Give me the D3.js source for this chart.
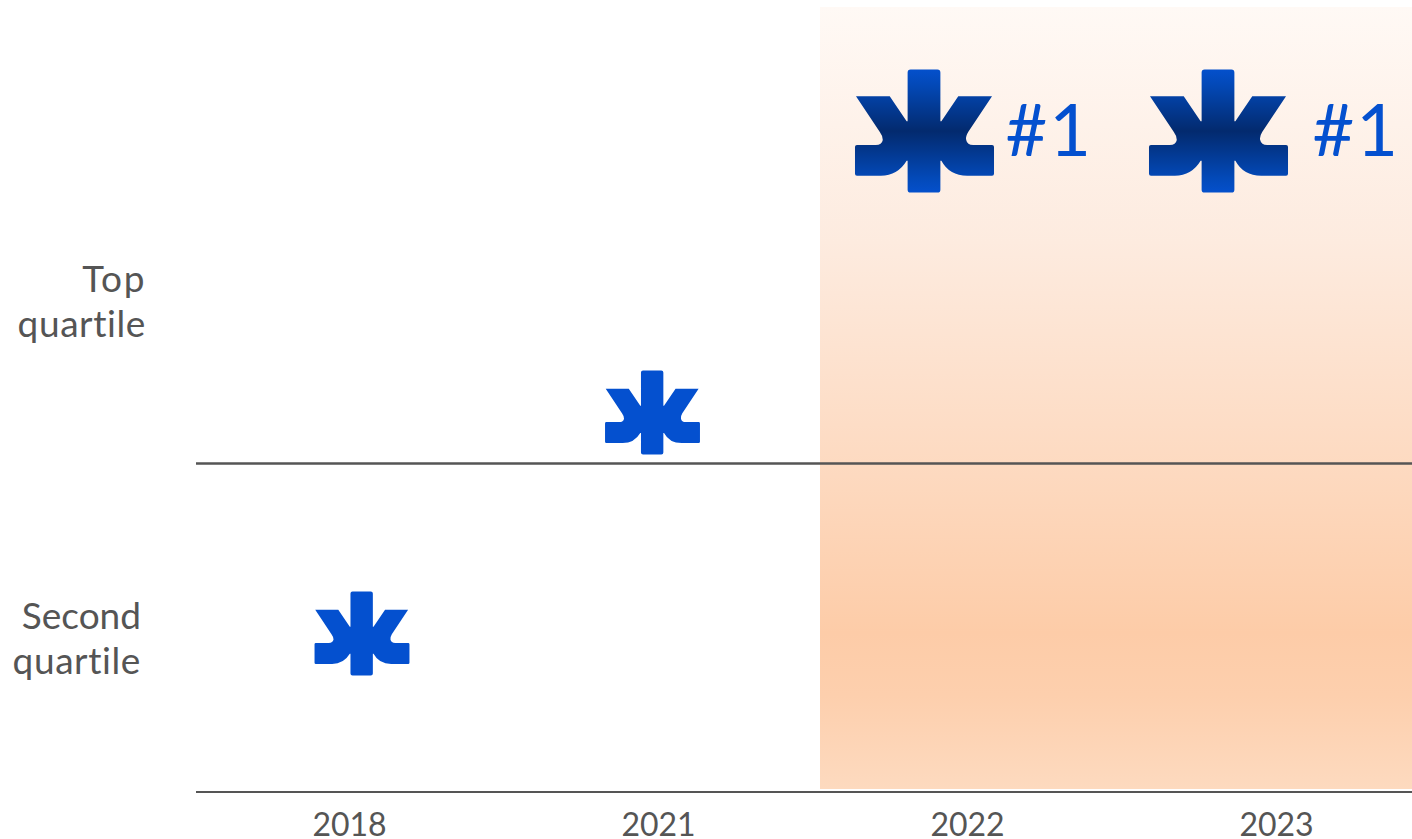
<!DOCTYPE html>
<html><head><meta charset="utf-8">
<script src="https://cdn.jsdelivr.net/npm/d3@7"></script>
<style>html,body{margin:0;padding:0;background:#fff;overflow:hidden}svg{display:block}text{font-family:Lato,sans-serif;font-variant-ligatures:none}</style>
</head><body><svg id="c" width="1412" height="839"></svg>
<script>
const years = ["2018","2021","2022","2023"];
const quartileScore = [0.4825, 1.155, 2.012, 2.012];
const rankLabels = ["", "", "#1", "#1"];
const highlightYears = ["2022","2023"];
const rowLabels = [["Top","quartile"],["Second","quartile"]];
const rowLabelScore = [1.522, 0.496];

const W=1412,H=839;
const svg=d3.select("#c");
const x=d3.scaleBand().domain(years).range([195,1431]);
const y=d3.scaleLinear().domain([0,1]).range([792,463.5]);
const cx=d=>x(d)+x.bandwidth()/2;
const BLUE="#0450cf", GREY="#555555";

const defs=svg.append("defs");
const bg=defs.append("linearGradient").attr("id","bg").attr("x1",0).attr("y1",0).attr("x2",0).attr("y2",1);
[[0,"#fff9f5"],[0.3,"#fdebdf"],[0.6,"#fdd9bf"],[0.8,"#fdcca8"],[0.88,"#fdcfad"],[1,"#fddabf"]]
 .forEach(s=>bg.append("stop").attr("offset",s[0]).attr("stop-color",s[1]));
const mg=defs.append("linearGradient").attr("id","mk").attr("x1",0).attr("y1",0).attr("x2",0).attr("y2",1);
[[0,"#0450cc"],[0.12,"#0349b8"],[0.5,"#032a6e"],[0.88,"#0349b8"],[1,"#0450cc"]]
 .forEach(s=>mg.append("stop").attr("offset",s[0]).attr("stop-color",s[1]));

// background band for highlighted years
const bandL=820;
svg.append("rect").attr("x",bandL).attr("y",7).attr("width",W-bandL).attr("height",782).attr("fill","url(#bg)");

// lines
svg.append("line").attr("x1",196).attr("x2",W).attr("y1",y(1)).attr("y2",y(1)).attr("stroke",GREY).attr("stroke-width",2.6);
svg.append("line").attr("x1",196).attr("x2",W).attr("y1",y(0)).attr("y2",y(0)).attr("stroke",GREY).attr("stroke-width",2);

// axis
const ax=svg.append("g").attr("transform",`translate(0,${y(0)})`).call(d3.axisBottom(x).tickSize(0).tickPadding(0));
ax.select(".domain").remove();
ax.selectAll("text").attr("y",44).attr("dy",0).attr("font-size",32).attr("fill",GREY).style("font-family","Lato,sans-serif");

// row labels
const rowRight=[146,141];
const rowTrack=[[1.6,0.6],[0,0.6]];
rowLabels.forEach((ls,i)=>{
  const t=svg.append("text").attr("text-anchor","end").attr("font-size",37).attr("fill",GREY);
  ls.forEach((l,j)=>t.append("tspan").attr("x",rowRight[i]).attr("y",y(rowLabelScore[i])+j*45)
    .attr("letter-spacing",rowTrack[i][j]).text(l));
});

// asterisk marker: path in a 139-wide box centred on 0,0
const mp="M-17,-59Q-17,-62 -14,-62L13,-62Q16,-62 16,-59L16,-10L17,-10L34,-35L68,-35L44,1Q41,6 42,9Q43,14 49,14L68,14Q70,14 70,16L70,43Q70,45 68,45L43,45Q25,45 17,30L16,30L16,59Q16,62 13,62L-14,62Q-17,62 -17,59L-17,30L-18,30Q-27,45 -44,45L-68,45Q-70,45 -70,43L-70,16Q-70,14 -68,14L-49,14Q-43,14 -42,9Q-42,5 -45,1L-69,-35L-35,-35L-18,-10L-17,-10Z";
const mNudge=[12.5,-6,-43,-58];
const labelGap=[0,0,81,94];
years.forEach((yr,i)=>{
  const big=highlightYears.includes(yr);
  const k=big?0.993:0.678;
  const px=cx(yr)+mNudge[i], py=y(quartileScore[i]);
  svg.append("path").attr("d",mp).attr("transform",`translate(${px},${py}) scale(${k})`)
    .attr("fill",big?"url(#mk)":BLUE);
  if(rankLabels[i]) svg.append("text").attr("x",px+labelGap[i]).attr("y",py+24.5).attr("font-size",72).attr("letter-spacing",2).attr("fill",BLUE).text(rankLabels[i]);
});
</script></body></html>
